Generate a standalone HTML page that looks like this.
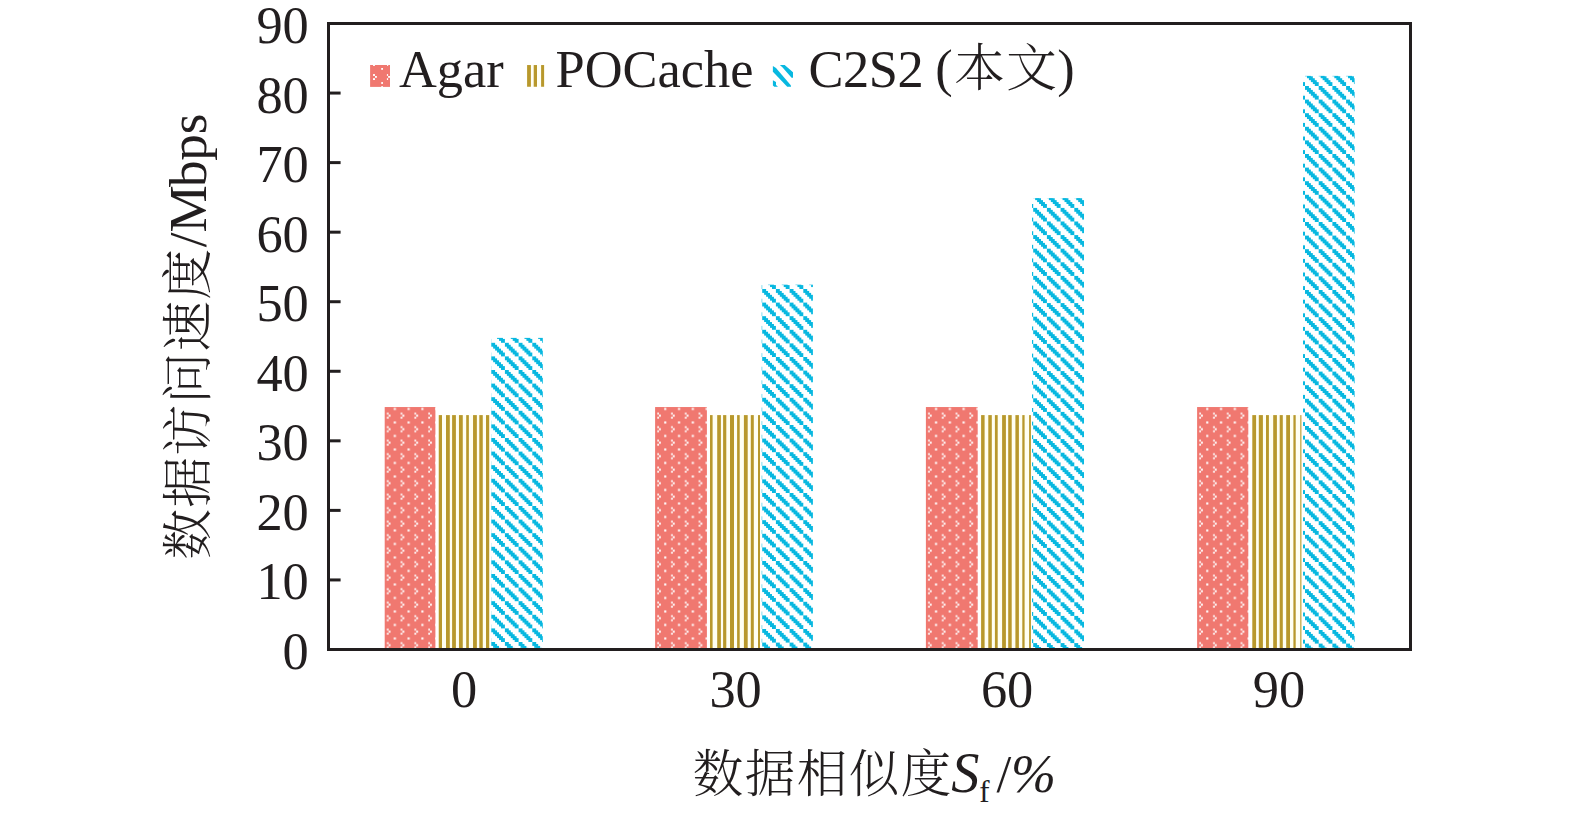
<!DOCTYPE html>
<html lang="zh"><head><meta charset="utf-8"><title>数据访问速度</title>
<style>html,body{margin:0;padding:0;background:#fff;}body{width:1575px;height:818px;overflow:hidden;}svg{display:block;}text{font-family:"Liberation Serif","Noto Serif CJK SC",serif;font-size:52.4px;fill:#221e1f;}.cj{font-weight:300;font-size:50.6px;letter-spacing:1.4px;}</style></head><body>
<svg width="1575" height="818" viewBox="0 0 1575 818">
<defs>
<pattern id="pr" patternUnits="userSpaceOnUse" x="0" y="0" width="13.8" height="13.5">
<rect x="0" y="0" width="13.8" height="13.5" fill="#f07870"/>
<g fill="#fff"><rect x="2.2" y="6.2" width="1.7" height="1.9"/><rect x="3.9" y="8.2" width="1.9" height="2"/><rect x="2.2" y="10.3" width="1.7" height="1.9"/><rect x="9.1" y="1.4" width="2.1" height="2.1"/></g>
</pattern>
<pattern id="pb" patternUnits="userSpaceOnUse" x="0" y="0" width="13.7" height="13.6">
<rect width="13.7" height="13.6" fill="#fff"/>
<g fill="#08b8e0"><rect x="0.000" y="0.000" width="3.914" height="1.963"/><rect x="0.000" y="1.943" width="5.871" height="1.963"/><rect x="1.957" y="3.886" width="5.871" height="1.963"/><rect x="3.914" y="5.829" width="5.871" height="1.963"/><rect x="5.871" y="7.771" width="5.871" height="1.963"/><rect x="7.829" y="9.714" width="5.871" height="1.963"/><rect x="9.786" y="11.657" width="3.914" height="1.963"/></g>
</pattern>
</defs>
<rect width="1575" height="818" fill="#fff"/>
<g transform="translate(384.70,649.50)"><rect x="0" y="-242.47" width="50.70" height="242.47" fill="url(#pr)"/></g>
<g fill="#b8982c">
<rect x="438.36" y="415.10" width="51.24" height="234.40" fill="#fffff2"/>
<rect x="438.76" y="415.10" width="3.24" height="234.40"/>
<rect x="446.00" y="415.10" width="3.80" height="234.40"/>
<rect x="452.10" y="415.10" width="3.80" height="234.40"/>
<rect x="458.95" y="415.10" width="3.81" height="234.40"/>
<rect x="466.20" y="415.10" width="2.66" height="234.40"/>
<rect x="473.05" y="415.10" width="3.81" height="234.40"/>
<rect x="479.30" y="415.10" width="3.46" height="234.40"/>
<rect x="486.00" y="415.10" width="3.20" height="234.40"/>
</g>
<g transform="translate(491.20,642.00)"><rect x="-0.10" y="-304.11" width="51.70" height="311.61" fill="url(#pb)"/></g>
<g transform="translate(655.10,649.50)"><rect x="0" y="-242.47" width="51.80" height="242.47" fill="url(#pr)"/></g>
<g fill="#b8982c">
<rect x="709.60" y="415.10" width="50.80" height="234.40" fill="#fffff2"/>
<rect x="710.00" y="415.10" width="2.60" height="234.40"/>
<rect x="717.20" y="415.10" width="3.70" height="234.40"/>
<rect x="723.10" y="415.10" width="3.20" height="234.40"/>
<rect x="730.00" y="415.10" width="4.00" height="234.40"/>
<rect x="737.10" y="415.10" width="2.60" height="234.40"/>
<rect x="743.90" y="415.10" width="3.80" height="234.40"/>
<rect x="750.80" y="415.10" width="3.00" height="234.40"/>
<rect x="758.00" y="415.10" width="2.00" height="234.40"/>
</g>
<g transform="translate(762.20,289.00)"><rect x="-0.50" y="-4.32" width="51.20" height="364.82" fill="url(#pb)"/></g>
<g transform="translate(925.90,649.50)"><rect x="0" y="-242.47" width="51.80" height="242.47" fill="url(#pr)"/></g>
<g fill="#b8982c">
<rect x="980.70" y="415.10" width="50.60" height="234.40" fill="#fffff2"/>
<rect x="981.10" y="415.10" width="3.50" height="234.40"/>
<rect x="988.30" y="415.10" width="3.50" height="234.40"/>
<rect x="994.90" y="415.10" width="2.80" height="234.40"/>
<rect x="1002.10" y="415.10" width="3.80" height="234.40"/>
<rect x="1008.20" y="415.10" width="3.50" height="234.40"/>
<rect x="1015.40" y="415.10" width="3.50" height="234.40"/>
<rect x="1022.30" y="415.10" width="2.30" height="234.40"/>
<rect x="1029.10" y="415.10" width="1.80" height="234.40"/>
</g>
<g transform="translate(1033.20,207.90)"><rect x="-1.20" y="-9.82" width="52.00" height="451.42" fill="url(#pb)"/></g>
<g transform="translate(1197.10,649.50)"><rect x="0" y="-242.47" width="51.20" height="242.47" fill="url(#pr)"/></g>
<g fill="#b8982c">
<rect x="1251.90" y="415.10" width="49.90" height="234.40" fill="#fffff2"/>
<rect x="1252.30" y="415.10" width="3.80" height="234.40"/>
<rect x="1258.80" y="415.10" width="4.10" height="234.40"/>
<rect x="1266.00" y="415.10" width="2.90" height="234.40"/>
<rect x="1273.20" y="415.10" width="3.70" height="234.40"/>
<rect x="1279.70" y="415.10" width="3.10" height="234.40"/>
<rect x="1286.20" y="415.10" width="3.80" height="234.40"/>
<rect x="1293.40" y="415.10" width="2.30" height="234.40"/>
<rect x="1300.30" y="415.10" width="1.10" height="234.40"/>
</g>
<g transform="translate(1305.00,86.00)"><rect x="-2.00" y="-10.12" width="51.60" height="573.62" fill="url(#pb)"/></g>
<rect x="328.5" y="23.5" width="1082" height="626" fill="none" stroke="#221e1f" stroke-width="3"/>
<line x1="328.5" y1="579.94" x2="340.6" y2="579.94" stroke="#221e1f" stroke-width="3"/>
<line x1="328.5" y1="510.39" x2="340.6" y2="510.39" stroke="#221e1f" stroke-width="3"/>
<line x1="328.5" y1="440.83" x2="340.6" y2="440.83" stroke="#221e1f" stroke-width="3"/>
<line x1="328.5" y1="371.28" x2="340.6" y2="371.28" stroke="#221e1f" stroke-width="3"/>
<line x1="328.5" y1="301.72" x2="340.6" y2="301.72" stroke="#221e1f" stroke-width="3"/>
<line x1="328.5" y1="232.17" x2="340.6" y2="232.17" stroke="#221e1f" stroke-width="3"/>
<line x1="328.5" y1="162.61" x2="340.6" y2="162.61" stroke="#221e1f" stroke-width="3"/>
<line x1="328.5" y1="93.06" x2="340.6" y2="93.06" stroke="#221e1f" stroke-width="3"/>
<text x="308.8" y="669.00" text-anchor="end">0</text>
<text x="308.8" y="599.44" text-anchor="end">10</text>
<text x="308.8" y="529.89" text-anchor="end">20</text>
<text x="308.8" y="460.33" text-anchor="end">30</text>
<text x="308.8" y="390.78" text-anchor="end">40</text>
<text x="308.8" y="321.22" text-anchor="end">50</text>
<text x="308.8" y="251.67" text-anchor="end">60</text>
<text x="308.8" y="182.11" text-anchor="end">70</text>
<text x="308.8" y="112.56" text-anchor="end">80</text>
<text x="308.8" y="43.00" text-anchor="end">90</text>
<text x="464.00" y="707.2" text-anchor="middle">0</text>
<text x="735.60" y="707.2" text-anchor="middle">30</text>
<text x="1007.10" y="707.2" text-anchor="middle">60</text>
<text x="1278.90" y="707.2" text-anchor="middle">90</text>
<g><rect x="370.1" y="65" width="19.9" height="21.9" fill="#f07870"/><g fill="#fff"><rect x="373" y="74.1" width="2" height="1.8"/><rect x="375" y="76" width="1.9" height="1.8"/><rect x="373" y="78.2" width="2" height="1.8"/><rect x="381.2" y="68" width="1.8" height="1.8"/><rect x="381.2" y="82.1" width="1.8" height="1.8"/><rect x="373" y="65" width="2" height="0.9"/><rect x="387" y="65" width="1.2" height="0.9"/><rect x="381.2" y="86.1" width="1.8" height="0.8"/><rect x="386.9" y="74.1" width="1.2" height="1.8"/><rect x="388.1" y="76" width="1.9" height="1.8"/><rect x="386.9" y="78.2" width="1.2" height="1.8"/></g></g>
<text x="398.9" y="86.9">Agar</text>
<g fill="#b8982c"><rect x="526.6" y="65" width="18" height="21.8" fill="#fffff4"/><rect x="527.1" y="65.05" width="3.8" height="21.7"/><rect x="533.7" y="65.05" width="3.3" height="21.7"/><rect x="541.1" y="65.05" width="3" height="21.7"/></g>
<text x="555.6" y="86.9">POCache</text>
<g fill="#08b8e0"><polygon points="772.9,66.1 776,68 791,85.4 791,86.7 787.2,86.7 772.9,71.7"/><polygon points="779.9,65.1 784.7,65.1 793,72.3 793,77.7 791.6,77.7 782.6,67.6"/><polygon points="772.9,80.2 776,82.1 776,85 778,86.7 774.3,86.7 772.9,85.4"/></g>
<text x="808.4" y="86.9" style="letter-spacing:-0.4px">C2S2</text>
<text x="935.2" y="86.1">(</text>
<text class="cj" x="954.2" y="86.4">本文</text>
<text x="1057.3" y="86.1">)</text>
<text class="cj" transform="translate(205.8,559.5) rotate(-90)" x="0" y="0">数据访问速度</text>
<text transform="translate(206.4,247.3) rotate(-90)" x="0" y="0" dx="0 0 -1.7 -0.5 0" style="font-size:53.2px">/Mbps</text>
<text class="cj" x="692.7" y="791.7">数据相似度</text>
<text x="951.2" y="791.8" font-style="italic" style="font-size:56.3px">S</text>
<text x="979.3" y="801.6" style="font-size:31px">f</text>
<text x="996.4" y="791.8" style="font-size:53px">/</text>
<text x="1011" y="792" font-style="italic" style="font-size:54px">%</text>
</svg></body></html>
